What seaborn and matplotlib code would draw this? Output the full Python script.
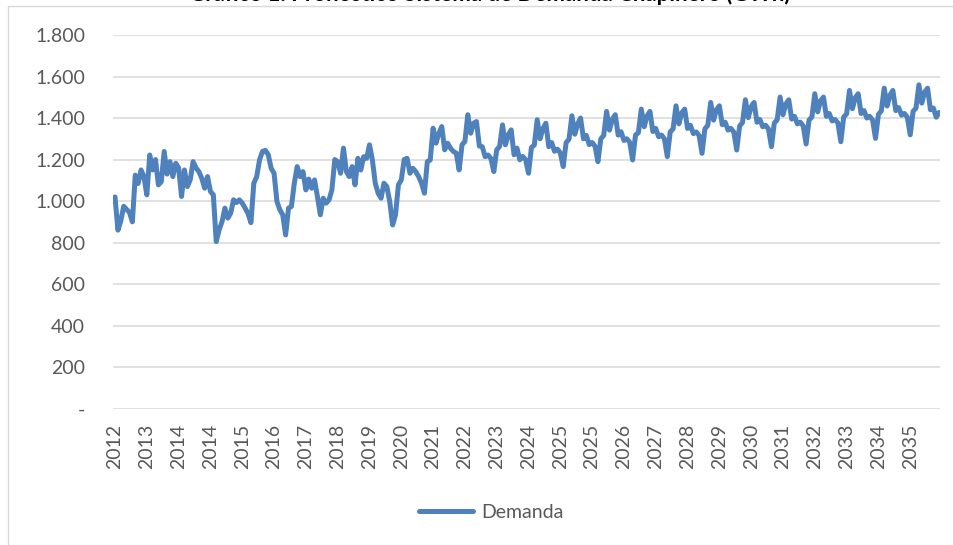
import numpy as np
import pandas as pd
import matplotlib
matplotlib.use("Agg")
import matplotlib.pyplot as plt
from matplotlib.lines import Line2D
import seaborn as sns

# ---------------- data ----------------
title = "Gráfico 1. Pronóstico Sistema de Demanda Chapinero (GWh)"
series_name = "Demanda"
start_month = "2012-03"
label_every = 11

hist_2012_2014 = [1020, 860, 905, 975, 960, 945, 900, 1125, 1085, 1150, 1118, 1030,
                  1222, 1150, 1200, 1078, 1094, 1239, 1130, 1190, 1118, 1182, 1160, 1022,
                  1150, 1070, 1102, 1190, 1160, 1142, 1110, 1062, 1118, 1046, 1030, 805]
hist_2015_2017 = [861, 901, 966, 918, 942, 1006, 993, 1006, 990, 966, 940, 896,
                  1086, 1118, 1200, 1239, 1244, 1223, 1158, 1134, 998, 958, 934, 837,
                  966, 974, 1086, 1166, 1118, 1142, 1054, 1106, 1062, 1102, 1022, 934]
hist_2018_2020 = [1014, 990, 1006, 1054, 1200, 1190, 1134, 1255, 1142, 1118, 1166, 1078,
                  1206, 1150, 1214, 1206, 1271, 1198, 1086, 1038, 1014, 1086, 1070, 998,
                  885, 934, 1078, 1102, 1200, 1206, 1134, 1158, 1142, 1118, 1086, 1038]
hist_2021_2022 = [1190, 1198, 1351, 1279, 1327, 1359, 1247, 1279, 1255, 1239, 1231, 1150,
                  1271, 1287, 1416, 1327, 1375, 1383, 1265, 1262, 1214, 1222, 1205, 1142]
forecast = [1247, 1263, 1367, 1271, 1319, 1343, 1223, 1255, 1199, 1215, 1199, 1134,
            1258, 1270, 1392, 1300, 1350, 1375, 1262, 1282, 1240, 1250, 1232, 1166,
            1282, 1298, 1411, 1322, 1372, 1400, 1300, 1316, 1272, 1282, 1264, 1190,
            1300, 1316, 1432, 1342, 1395, 1416, 1318, 1334, 1292, 1300, 1283, 1198,
            1318, 1330, 1443, 1358, 1410, 1432, 1335, 1350, 1310, 1318, 1300, 1214,
            1333, 1348, 1459, 1372, 1425, 1443, 1350, 1365, 1325, 1333, 1316, 1230,
            1348, 1365, 1475, 1390, 1440, 1459, 1368, 1380, 1342, 1350, 1332, 1246,
            1362, 1378, 1488, 1402, 1455, 1475, 1380, 1393, 1358, 1365, 1347, 1262,
            1376, 1392, 1501, 1416, 1468, 1488, 1395, 1408, 1372, 1380, 1362, 1275,
            1390, 1405, 1517, 1430, 1483, 1501, 1408, 1422, 1386, 1393, 1376, 1286,
            1405, 1420, 1533, 1445, 1498, 1517, 1422, 1436, 1400, 1408, 1390, 1302,
            1418, 1434, 1544, 1458, 1510, 1533, 1436, 1450, 1414, 1422, 1404, 1319,
            1432, 1448, 1560, 1472, 1525, 1544, 1440, 1448, 1404, 1427]
demanda = hist_2012_2014 + hist_2015_2017 + hist_2018_2020 + hist_2021_2022 + forecast
y_ticks = [0, 200, 400, 600, 800, 1000, 1200, 1400, 1600, 1800]

# ---------------- figure ----------------
sns.set_theme(style="white")
plt.rcParams['font.family'] = ['Lato', 'DejaVu Sans']

fechas = pd.date_range(start_month, periods=len(demanda), freq="MS")
df = pd.DataFrame({"idx": np.arange(len(demanda)), series_name: demanda})

W, H = 954, 545
fig = plt.figure(figsize=(W / 100, H / 100), dpi=100)
fig.patch.set_facecolor("white")
ax = fig.add_axes([113 / W, 1 - 408.7 / H, (940 - 113) / W, (408.7 - 35) / H])

line_color = "#4F81BD"
sns.lineplot(data=df, x="idx", y=series_name, ax=ax, color=line_color,
             linewidth=3.6, legend=False, solid_joinstyle="round", solid_capstyle="round")

ax.set_ylim(0, 1800)
ax.set_xlim(-0.7, len(demanda) - 0.7)
ax.set_yticks(y_ticks)
ax.set_yticklabels(["-" if v == 0 else f"{v:,}".replace(",", ".") for v in y_ticks])
tick_idx = list(range(0, len(demanda), label_every))
ax.set_xticks(tick_idx)
ax.set_xticklabels([str(fechas[i].year) for i in tick_idx], rotation=90)
ax.grid(axis="y", color="#D9D9D9", linewidth=1.1)
ax.grid(axis="x", visible=False)
ax.set_axisbelow(True)
for s in ax.spines.values():
    s.set_visible(False)
ax.tick_params(axis="both", length=0, colors="#595959", labelsize=14)
ax.tick_params(axis="y", pad=20)
ax.tick_params(axis="x", pad=11)
ax.set_xlabel("")
ax.set_ylabel("")

handle = Line2D([0], [0], color=line_color, linewidth=3.6, solid_capstyle="round")
leg = fig.legend([handle], [series_name], loc="center",
                 bbox_to_anchor=(491 / W, 1 - 512 / H), frameon=False,
                 fontsize=14, handlelength=2.8, handletextpad=0.4)
for t in leg.get_texts():
    t.set_color("#595959")

# chart frame (left and top edges visible)
frame_c = "#D9D9D9"
fig.add_artist(Line2D([8.5 / W, 8.5 / W], [0, 1 - 6 / H], transform=fig.transFigure,
                      color=frame_c, linewidth=1))
fig.add_artist(Line2D([8.5 / W, 1], [1 - 6 / H, 1 - 6 / H], transform=fig.transFigure,
                      color=frame_c, linewidth=1))

fig.text(490 / W, 1 - 1 / H, title, ha="center", va="baseline",
         fontsize=16, fontweight="bold", color="black")

fig.savefig("out.png", dpi=100, facecolor="white")
